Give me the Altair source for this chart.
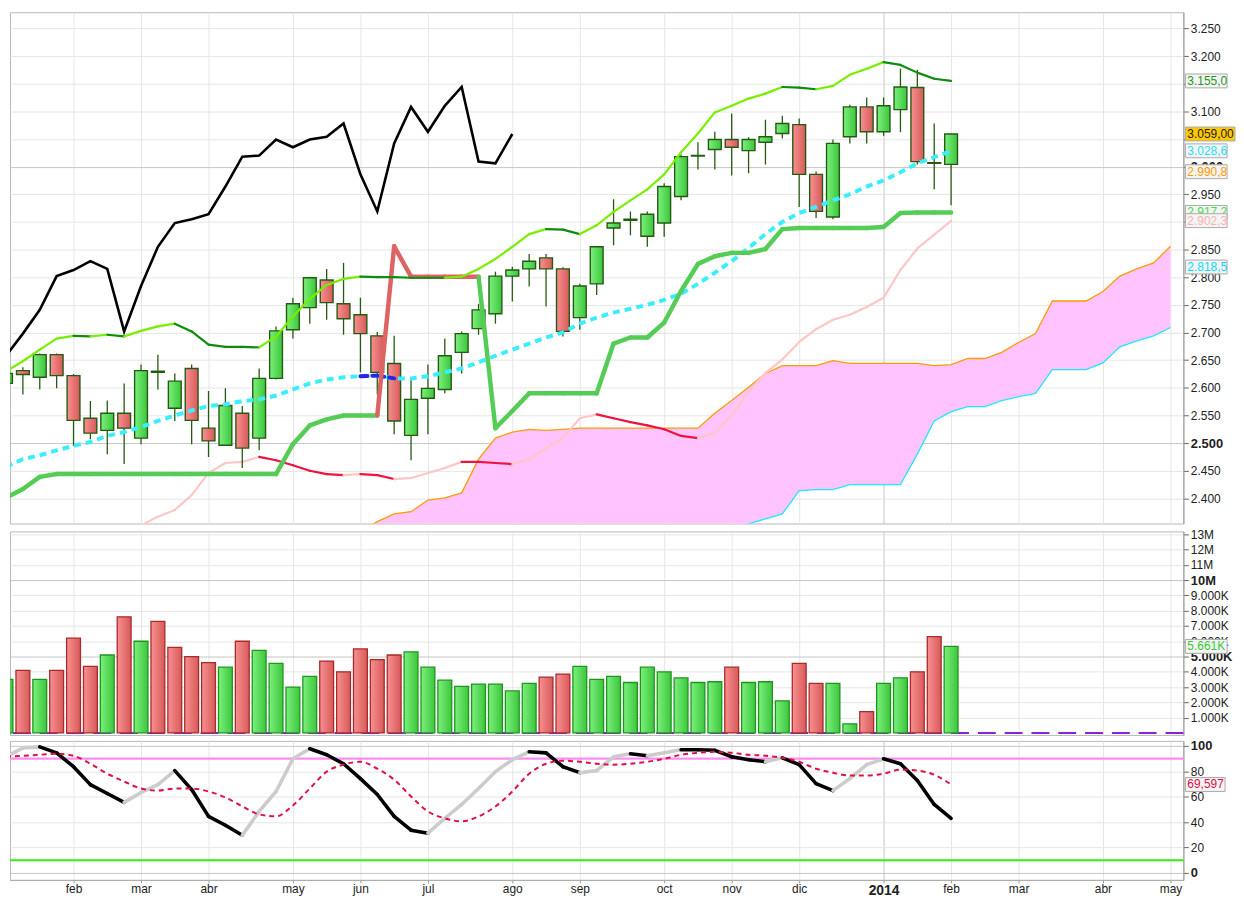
import json
import altair as alt
import pandas as pd

# ---------------- data (weekly bars, index 0 = week of 7 Jan 2013) ----------------
month_ticks = [0, 4, 8, 12, 17, 21, 25, 30, 34, 39, 43, 47, 52, 56, 60, 65, 69]
month_labels = ["2013", "feb", "mar", "abr", "may", "jun", "jul", "ago", "sep",
                "oct", "nov", "dic", "2014", "feb", "mar", "abr", "may"]

open_ = [2608, 2631, 2619, 2660, 2622, 2545, 2523, 2554, 2509, 2628,
         2563, 2635, 2527, 2496, 2554, 2509, 2617, 2705, 2745, 2795,
         2752, 2732, 2694, 2644, 2514, 2581, 2597, 2664, 2707, 2734,
         2802, 2815, 2835, 2815, 2727, 2788, 2889, 2903, 2874, 2898,
         2946, 3019, 3031, 3049, 3029, 3044, 3060, 3076, 2986, 2909,
         3054, 3108, 3063, 3103, 3143, 3007, 3004]
high = [2639, 2637, 2662, 2662, 2625, 2576, 2577, 2608, 2642, 2660,
        2626, 2642, 2594, 2599, 2567, 2635, 2711, 2763, 2801, 2815,
        2826, 2763, 2701, 2694, 2617, 2642, 2689, 2702, 2752, 2810,
        2819, 2842, 2842, 2818, 2788, 2855, 2941, 2919, 2919, 2970,
        3022, 3044, 3063, 3096, 3053, 3085, 3092, 3087, 2991, 3049,
        3112, 3125, 3125, 3177, 3175, 3078, 3060]
low = [2581, 2588, 2597, 2599, 2495, 2507, 2480, 2462, 2498, 2597,
       2540, 2498, 2475, 2495, 2455, 2487, 2615, 2689, 2716, 2723,
       2696, 2628, 2588, 2516, 2469, 2516, 2590, 2626, 2696, 2716,
       2756, 2783, 2747, 2693, 2705, 2768, 2858, 2876, 2855, 2873,
       2939, 2995, 2995, 2984, 2988, 3004, 3051, 2927, 2907, 2905,
       3042, 3042, 3056, 3062, 3004, 2959, 2930]
close = [2626, 2624, 2660, 2622, 2541, 2518, 2554, 2527, 2631, 2630,
         2612, 2541, 2504, 2568, 2491, 2617, 2703, 2752, 2799, 2754,
         2725, 2698, 2628, 2540, 2579, 2599, 2658, 2698, 2741, 2802,
         2813, 2829, 2815, 2702, 2784, 2855, 2898, 2905, 2914, 2964,
         3018, 3020, 3049, 3035, 3049, 3054, 3078, 2986, 2919, 3042,
         3108, 3063, 3110, 3144, 3009, 3006, 3059]
volume_k = [3500, 4100, 3500, 4100, 6200, 4350, 5100, 7600, 6000, 7300,
            5600, 5000, 4600, 4300, 6000, 5400, 4550, 3000, 3700, 4700,
            4000, 5500, 4800, 5100, 5300, 4300, 3450, 3050, 3200, 3200,
            2750, 3250, 3650, 3850, 4350, 3500, 3700, 3300, 4300, 4000,
            3600, 3300, 3350, 4300, 3300, 3350, 2100, 4550, 3250, 3250,
            600, 1400, 3250, 3600, 4000, 6300, 5661]
upper_line = [2630, 2648, 2669, 2689, 2694, 2693, 2696, 2693, 2703, 2711,
              2716, 2702, 2678, 2674, 2674, 2673, 2693, 2729, 2761, 2786,
              2797, 2801, 2800, 2800, 2799, 2799, 2799, 2801, 2815, 2833,
              2855, 2878, 2887, 2886, 2878, 2894, 2918, 2939, 2959, 2986,
              3026, 3060, 3098, 3110, 3123, 3132, 3144, 3143, 3140, 3146,
              3166, 3177, 3189, 3184, 3170, 3159, 3155]
kijun = [2401, 2417, 2439, 2444, 2444, 2444, 2444, 2444, 2444, 2444,
         2444, 2444, 2444, 2444, 2444, 2444, 2444, 2498, 2532, 2543,
         2550, 2550, 2550, 2856, 2801, 2801, 2801, 2801, 2801, 2527,
         2558, 2590, 2590, 2590, 2590, 2590, 2680, 2691, 2691, 2718,
         2775, 2824, 2838, 2844, 2844, 2851, 2887, 2889, 2889, 2889,
         2889, 2889, 2891, 2916, 2917, 2917, 2917]
ma_line = [2457, 2471, 2478, 2487, 2495, 2502, 2513, 2520, 2529, 2540,
           2550, 2559, 2567, 2570, 2576, 2579, 2586, 2597, 2608, 2615,
           2619, 2621, 2622, 2617, 2617, 2621, 2628, 2635, 2646, 2658,
           2669, 2680, 2691, 2700, 2716, 2727, 2736, 2743, 2750, 2759,
           2770, 2788, 2808, 2829, 2853, 2878, 2900, 2916, 2927, 2939,
           2950, 2964, 2975, 2990, 3006, 3017, 3028]
slow_start = 7
slow_line = [2333, 2351, 2367, 2379, 2406, 2446, 2464, 2466, 2475, 2469,
             2460, 2450, 2444, 2442, 2444, 2442, 2435, 2437, 2446, 2455,
             2466, 2466, 2464, 2462, 2471, 2491, 2509, 2545, 2552, 2545,
             2538, 2532, 2525, 2513, 2509, 2518, 2550, 2593, 2627, 2651,
             2683, 2706, 2723, 2732, 2746, 2763, 2813, 2852, 2877, 2902]
cloud_start = 21
span_a = [2340, 2358, 2372, 2376, 2397, 2401, 2410, 2471, 2509, 2520,
          2525, 2523, 2525, 2527, 2527, 2527, 2527, 2527, 2527, 2527,
          2527, 2554, 2577, 2601, 2626, 2640, 2640, 2640, 2649, 2644,
          2644, 2644, 2644, 2644, 2640, 2642, 2653, 2653, 2664, 2682,
          2698, 2757, 2757, 2757, 2774, 2802, 2815, 2826, 2856]
span_b = [2290, 2290, 2290, 2295, 2295, 2300, 2300, 2305, 2305, 2310,
          2310, 2315, 2315, 2320, 2320, 2325, 2325, 2330, 2330, 2335,
          2335, 2340, 2345, 2354, 2363, 2372, 2414, 2416, 2416, 2425,
          2425, 2425, 2425, 2480, 2540, 2557, 2566, 2566, 2577, 2584,
          2590, 2633, 2633, 2633, 2645, 2674, 2685, 2694, 2709]
stoch_k = [91.4, 98.4, 99.2, 94.5, 83.6, 69.5, 62.5, 55.5, 63.3, 69.5,
           80.5, 65.6, 44.5, 37.5, 29.7, 48.4, 64.1, 89.8, 97.7, 93.0,
           85.9, 74.2, 61.7, 44.5, 33.6, 31.3, 43.0, 53.9, 66.4, 79.7,
           89.1, 95.3, 94.5, 83.6, 78.9, 80.5, 91.4, 93.8, 92.2, 94.5,
           96.9, 96.9, 96.5, 91.4, 89.1, 87.5, 90.6, 85.2, 70.3, 64.8,
           74.2, 85.2, 89.8, 85.9, 72.7, 53.9, 43.0]
stoch_d = [91.4, 92.2, 93.0, 93.8, 92.2, 85.9, 78.1, 71.9, 66.4, 64.8,
           66.4, 66.4, 64.1, 59.4, 52.3, 46.1, 44.5, 53.1, 66.4, 79.7,
           85.2, 87.5, 82.0, 73.4, 60.2, 48.4, 43.0, 40.6, 44.5, 52.3,
           64.1, 78.1, 85.9, 88.3, 87.5, 85.9, 85.2, 85.9, 87.5, 89.8,
           93.0, 94.5, 95.3, 94.5, 93.0, 92.2, 90.6, 87.5, 82.0, 78.9,
           76.6, 76.6, 78.1, 81.3, 80.5, 77.3, 69.6]
stoch_levels = [90, 10]
chikou_shift = 26

price_tag_vals = [3155.0, 3059.0, 3028.6, 2990.8, 2917.2, 2902.3, 2818.5]
price_tag_txt = ["3.155,0", "3.059,00", "3.028,6", "2.990,8", "2.917,2", "2.902,3", "2.818,5"]
price_hidden_ticks = [2900, 3050, 3150]   # axis labels fully covered by the tags
vol_tag_vals = [5661]
vol_tag_txt = ["5.661K"]
stoch_tag_vals = [69.597]
stoch_tag_txt = ["69,597"]

# ---------------- layout / styles ----------------
W, HP, HV, HS = 1182, 515, 205, 140
X_LO, X_HI = 0.2353, 69.765
FONT = "Liberation Sans"
BODY_HALF = 0.38   # half candle width, in bar units
VOL_HALF = 0.41

xs = alt.Scale(domain=[X_LO, X_HI], nice=False, zero=False)
ps = alt.Scale(domain=[2354.6, 3279.2], nice=False, zero=False)
vs = alt.Scale(domain=[-130, 13182], nice=False, zero=False)
ss = alt.Scale(domain=[-5.47, 103.9], nice=False, zero=False)

ticks = [t for t in month_ticks if X_LO <= t <= X_HI]
tick_labels = [month_labels[month_ticks.index(t)] for t in ticks]
label_expr = f"{json.dumps(tick_labels)}[indexof({json.dumps(ticks)}, datum.value)]"

GRID_X = {"condition": {"test": "datum.value == 52", "value": "#c6c6c6"}, "value": "#e6e6e6"}

xax_top = alt.Axis(values=ticks, labels=False, ticks=False, domain=False, grid=True,
                   gridColor=GRID_X, title=None, zindex=0)
xax_bot = alt.Axis(values=ticks, labelExpr=label_expr, grid=True, gridColor=GRID_X,
                   tickSize=3, labelPadding=1, labelFlush=False, labelOverlap=False,
                   labelFontWeight={"condition": {"test": "datum.value == 52", "value": "bold"}, "value": "normal"},
                   labelFontSize={"condition": {"test": "datum.value == 52", "value": 14}, "value": 12},
                   title=None, domainColor="#aaaaaa", tickColor="#999999", zindex=0)


def yaxis(values, expr, bold_test):
    return alt.Axis(orient="right", values=values, labelExpr=expr, grid=True,
                    gridColor={"condition": {"test": bold_test, "value": "#c6c6c6"}, "value": "#e6e6e6"},
                    labelFontWeight={"condition": {"test": bold_test, "value": "bold"}, "value": "normal"},
                    labelFontSize={"condition": {"test": bold_test, "value": 13}, "value": 12},
                    title=None, tickSize=5, labelPadding=2, labelOverlap=False, labelFlush=False,
                    zindex=0, domainColor="#999999", tickColor="#666666")


pax = yaxis(list(range(2400, 3251, 50)),
            f"indexof({json.dumps(price_hidden_ticks)}, datum.value) >= 0 ? '' : "
            "replace(format(datum.value, ',d'), ',', '.')",
            "datum.value == 2500 || datum.value == 3000")
vax = yaxis(list(range(1000, 13001, 1000)),
            "datum.value >= 10000 ? format(datum.value / 1000, 'd') + 'M' : "
            "replace(format(datum.value, ',d'), ',', '.') + 'K'",
            "datum.value == 5000 || datum.value == 10000")
sax = yaxis([0, 20, 40, 60, 80, 100], "format(datum.value, 'd')",
            "datum.value == 0 || datum.value == 100")


def grad(c1, c2):
    return alt.Gradient(gradient="linear",
                        stops=[alt.GradientStop(color=c1, offset=0), alt.GradientStop(color=c2, offset=1)],
                        x1=0, x2=1, y1=0, y2=0)


G_UP = grad("#7cf07c", "#3cc63c")
G_DN = grad("#f89090", "#d85a5a")

idx = list(range(len(close)))


def segs(start, vals, color_fn):
    rows = []
    for k in range(len(vals) - 1):
        i = start + k
        rows.append(dict(i=i, i2=i + 1, v=vals[k], v2=vals[k + 1], c=color_fn(i, vals[k], vals[k + 1])))
    return pd.DataFrame(rows)


def seg_layer(df, xax, yscale, yax, width, dash=None):
    kw = dict(strokeWidth=width, strokeCap="round", clip=True)
    if dash:
        kw["strokeDash"] = dash
    return alt.Chart(df).mark_rule(**kw).encode(
        x=alt.X("i:Q", scale=xs, axis=xax), x2="i2:Q",
        y=alt.Y("v:Q", scale=yscale, axis=yax), y2="v2:Q",
        color=alt.Color("c:N", scale=None))


def tag_layers(vals, texts, tcolors, fills, widths, yscale, yax):
    out = []
    for v, t, tc, fc, w in zip(vals, texts, tcolors, fills, widths):
        d = pd.DataFrame({"v": [v], "t": [t]})
        out.append(alt.Chart(d).mark_rect(fill=fc, stroke="#aaaaaa", strokeWidth=1, yOffset=-7,
                                          y2Offset=7, clip=False).encode(
            x=alt.value(W + 2), x2=alt.value(W + 2 + w),
            y=alt.Y("v:Q", scale=yscale, axis=yax), y2="v:Q"))
        out.append(alt.Chart(d).mark_text(align="left", baseline="middle", fontSize=12, font=FONT,
                                          color=tc, clip=False).encode(
            x=alt.value(W + 4), y=alt.Y("v:Q", scale=yscale, axis=yax), text="t:N"))
    return out


# ---------------- price panel ----------------
PX = alt.X("i:Q", scale=xs, axis=xax_top)

cdf = pd.DataFrame(dict(i=idx, o=open_, h=high, l=low, c=close))
cdf["up"] = cdf["c"] >= cdf["o"]

cloud = pd.DataFrame(dict(i=list(range(cloud_start, cloud_start + len(span_a))), a=span_a, b=span_b))
area = alt.Chart(cloud).mark_area(color="#ffc4ff", opacity=1, clip=True).encode(
    x=PX, y=alt.Y("a:Q", scale=ps, axis=pax), y2="b:Q")
a_line = alt.Chart(cloud).mark_line(color="#ff9a00", strokeWidth=1.3, clip=True).encode(
    x=PX, y=alt.Y("a:Q", scale=ps, axis=pax))
b_line = alt.Chart(cloud).mark_line(color="#1ee8ff", strokeWidth=1.3, clip=True).encode(
    x=PX, y=alt.Y("b:Q", scale=ps, axis=pax))

slow = seg_layer(segs(slow_start, slow_line,
                      lambda i, a, b: "#f0123e" if b <= a else "#ffc6c6"), xax_top, ps, pax, 2.2)

wicks = alt.Chart(cdf).mark_rule(color="#245a12", strokeWidth=1.3, clip=True).encode(
    x=PX, y=alt.Y("l:Q", scale=ps, axis=pax), y2="h:Q")


def bodies(df, fill):
    return alt.Chart(df).transform_calculate(
        xl=f"datum.i - {BODY_HALF}", xr=f"datum.i + {BODY_HALF}"
    ).mark_rect(fill=fill, stroke="#245a12", strokeWidth=1.4, clip=True).encode(
        x=alt.X("xl:Q", scale=xs, axis=xax_top), x2="xr:Q",
        y=alt.Y("o:Q", scale=ps, axis=pax), y2="c:Q")


body_up = bodies(cdf[cdf["up"]], G_UP)
body_dn = bodies(cdf[~cdf["up"]], G_DN)

ma_df = pd.DataFrame(dict(i=idx, v=ma_line))
ma = alt.Chart(ma_df).mark_line(color="#3aeeff", strokeWidth=4, strokeDash=[7, 5], clip=True).encode(
    x=PX, y=alt.Y("v:Q", scale=ps, axis=pax))
ma_blue = seg_layer(segs(21, ma_line[21:24], lambda i, a, b: "#2626e6"), xax_top, ps, pax, 4, [7, 5])

kij = seg_layer(segs(0, kijun, lambda i, a, b: "#dd6464" if close[i + 1] < kijun[i + 1] else "#55cc55"),
                xax_top, ps, pax, 4.5)
upper = seg_layer(segs(0, upper_line, lambda i, a, b: "#0e8c0e" if b <= a else "#78ee00"),
                  xax_top, ps, pax, 2.2)

chik = pd.DataFrame(dict(i=[k - chikou_shift for k in idx[chikou_shift:]], v=close[chikou_shift:]))
chikou = alt.Chart(chik).mark_line(color="#000000", strokeWidth=2.6, clip=True).encode(
    x=PX, y=alt.Y("v:Q", scale=ps, axis=pax))

p_tags = tag_layers(price_tag_vals, price_tag_txt,
                    ["#1a9a1a", "#222222", "#22e0ff", "#ff9900", "#44dd44", "#ffb0b0", "#00e0ff"],
                    ["#f4f4f4", "#ffc800", "#f4f4f4", "#f4f4f4", "#f4f4f4", "#f4f4f4", "#f4f4f4"],
                    [42, 50, 42, 42, 42, 42, 42], ps, pax)

price = alt.layer(area, a_line, b_line, slow, wicks, body_up, body_dn, ma, ma_blue, kij, upper,
                  chikou, *p_tags).properties(width=W, height=HP)

# ---------------- volume panel ----------------
vdf = pd.DataFrame(dict(i=idx, vol=volume_k))
vdf["up"] = [True] + [close[k] >= close[k - 1] for k in idx[1:]]
base0 = alt.Chart(pd.DataFrame({"v": [0]})).mark_rule(color="#8a22d8", strokeWidth=2,
                                                     strokeDash=[18, 9]).encode(
    y=alt.Y("v:Q", scale=vs, axis=vax))


def vbars(df, fill, stroke):
    return alt.Chart(df).transform_calculate(
        xl=f"datum.i - {VOL_HALF}", xr=f"datum.i + {VOL_HALF}"
    ).mark_rect(fill=fill, stroke=stroke, strokeWidth=1.3, clip=True).encode(
        x=alt.X("xl:Q", scale=xs, axis=xax_top), x2="xr:Q",
        y=alt.Y("vol:Q", scale=vs, axis=vax), y2=alt.datum(0))


vol_up = vbars(vdf[vdf["up"]], G_UP, "#1e961e")
vol_dn = vbars(vdf[~vdf["up"]], G_DN, "#a82a2a")
v_tags = tag_layers(vol_tag_vals, vol_tag_txt, ["#33cc33"], ["#f4f4f4"], [42], vs, vax)
volume = alt.layer(base0, vol_up, vol_dn, *v_tags).properties(width=W, height=HV)

# ---------------- stochastic panel ----------------
SX = alt.X("i:Q", scale=xs, axis=xax_bot)
lv = pd.DataFrame({"v": stoch_levels, "c": ["#ff8cf0", "#33ee11"]})
levels = alt.Chart(lv).mark_rule(strokeWidth=2.2).encode(
    y=alt.Y("v:Q", scale=ss, axis=sax), color=alt.Color("c:N", scale=None))
kseg = seg_layer(segs(0, stoch_k, lambda i, a, b: "#000000" if b <= a else "#cccccc"),
                 xax_bot, ss, sax, 3.6)
ddf = pd.DataFrame(dict(i=idx, v=stoch_d))
dline = alt.Chart(ddf).mark_line(color="#dd1144", strokeWidth=2, strokeDash=[5, 4],
                                 interpolate="monotone", clip=True).encode(
    x=SX, y=alt.Y("v:Q", scale=ss, axis=sax))
s_tags = tag_layers(stoch_tag_vals, stoch_tag_txt, ["#dd1144"], ["#f4f4f4"], [40], ss, sax)
stoch = alt.layer(levels, kseg, dline, *s_tags).properties(width=W, height=HS)

chart = alt.vconcat(price, volume, stoch, spacing=3).properties(
    padding=0, background="white"
).configure_view(stroke="#b8b8b8", strokeWidth=1).configure_axis(
    labelFont=FONT, labelColor="#222222"
).configure_text(font=FONT)

chart.save("out.html", embed_options={"renderer": "svg", "actions": False})
